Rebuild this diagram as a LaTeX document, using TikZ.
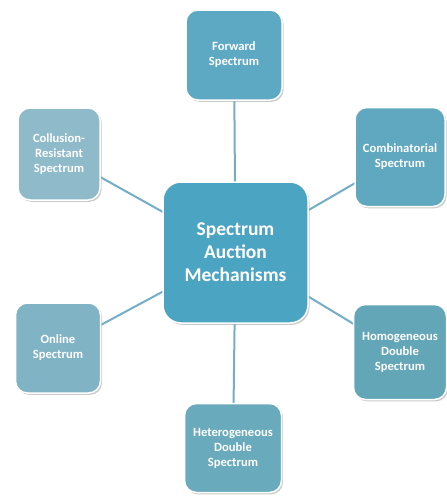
\documentclass[tikz,border=0pt]{standalone}
\usepackage{fontspec}
\setmainfont{Carlito}
\usetikzlibrary{shadows}
\definecolor{cmain}{HTML}{4CA4C3}
\definecolor{cfwd}{HTML}{5DA8C2}
\definecolor{ccol}{HTML}{8EBAC9}
\definecolor{ccomb}{HTML}{5FA8BF}
\definecolor{chom}{HTML}{63A6B8}
\definecolor{chet}{HTML}{69ABBC}
\definecolor{conl}{HTML}{80B4C5}
\definecolor{cline}{HTML}{74ADC7}
\tikzset{
  x=1pt, y=-1pt,
  boxbase/.style={draw=white, line width=1.5pt, rounded corners=12pt,
    text=white, font=\bfseries\fontsize{12.6}{15}\selectfont, align=center,
    inner sep=2pt, drop shadow={shadow xshift=1.5pt, shadow yshift=-1.8pt, fill=black!35, opacity=0.6}},
  mainbox/.style={boxbase, fill=cmain, minimum width=145pt, minimum height=141pt,
    rounded corners=18pt, font=\bfseries\fontsize{19.5}{23}\selectfont},
  conn/.style={draw=cline, line width=2pt}
}
\begin{document}
\begin{tikzpicture}
\useasboundingbox (0,0) rectangle (447,498);
\coordinate (cc) at (235.5,252.5);
\coordinate (pf) at (234,55);
\coordinate (pcol) at (59,154);
\coordinate (pcomb) at (400,157);
\coordinate (phom) at (400,352);
\coordinate (phet) at (233,448);
\coordinate (ponl) at (58,348);
\draw[conn] (cc) -- (pf);
\draw[conn] (cc) -- (pcol);
\draw[conn] (cc) -- (pcomb);
\draw[conn] (cc) -- (phom);
\draw[conn] (cc) -- (phet);
\draw[conn] (cc) -- (ponl);
\node[mainbox] (main) at (cc) {Spectrum\\Auction\\Mechanisms};
\node[boxbase, fill=cfwd, minimum width=96pt, minimum height=90pt] (fwd) at (pf) {Forward\\Spectrum};
\node[boxbase, fill=ccol, minimum width=82pt, minimum height=92pt] (col) at (pcol) {Collusion-\\Resistant\\Spectrum};
\node[boxbase, fill=ccomb, minimum width=90pt, minimum height=99pt] (comb) at (pcomb) {Combinatorial\\Spectrum};
\node[boxbase, fill=chom, minimum width=93pt, minimum height=95pt] (hom) at (phom) {Homogeneous\\Double\\Spectrum};
\node[boxbase, fill=chet, minimum width=97pt, minimum height=89pt] (het) at (phet) {Heterogeneous\\Double\\Spectrum};
\node[boxbase, fill=conl, minimum width=85pt, minimum height=90pt] (onl) at (ponl) {Online\\Spectrum};
\end{tikzpicture}
\end{document}
